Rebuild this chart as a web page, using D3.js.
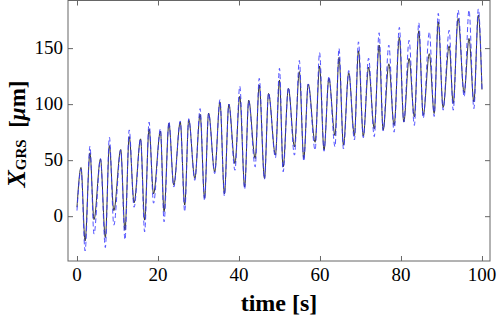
<!DOCTYPE html>
<html>
<head>
<meta charset="utf-8">
<script src="https://cdn.jsdelivr.net/npm/d3@7"></script>
<style>
  body { margin: 0; background: #fff; }
  svg { display: block; }
</style>
</head>
<body>
<svg id="chart" width="498" height="320"></svg>
<script>
'use strict';

// Turning points (time in s, position in µm).
const times = [0, 1.0, 2.0, 3.2, 4.2, 5.8, 7.0, 8.0, 9.1, 10.8, 11.85, 12.9, 14.1, 15.7, 16.7, 17.8,
  18.9, 20.6, 21.5, 22.7, 23.9, 25.5, 26.6, 27.6, 29.1, 30.4, 31.5, 32.5, 34.0, 35.3, 36.4, 37.5,
  39.0, 40.2, 41.4, 42.4, 44.0, 45.0, 46.3, 47.3, 49.0, 50.0, 50.9, 52.2, 53.7, 54.9, 56.0, 57.1,
  58.8, 59.9, 61.0, 62.2, 63.7, 64.7, 65.8, 67.1, 68.5, 69.5, 70.7, 72.0, 73.4, 74.6, 75.6, 77.0,
  78.3, 79.6, 80.7, 82.0, 83.3, 84.4, 85.5, 87.0, 88.2, 89.2, 90.4, 91.9, 92.9, 94.1, 95.6, 96.8,
  98.0, 99.1, 100];

const solidValues = [8, 43.5, -22, 56.5, -3, 51, -19, 63, 5, 59.5, -12.5, 71, 12, 69, -3.5, 78,
  20, 76, 4, 83, 27.7, 84, 10, 86, 33.7, 91, 16, 92, 39.6, 102, 20, 100,
  47, 107, 26, 103.5, 51.5, 117, 33.7, 109.5, 54.5, 121.4, 44, 114, 62, 129, 51.5, 118,
  66, 134, 59, 123, 72, 141.7, 63.4, 128, 72, 147.6, 71.4, 133, 78, 152.7, 76.8, 136,
  81, 159.5, 84, 140.8, 88.7, 165.5, 90, 145, 91.7, 173.5, 97, 152, 100.6, 176.5, 110, 158.6,
  102, 179.5, 113];

const dashedValues = [5, 42, -31, 62.5, -16, 51.5, -28, 70.5, -8, 59, -21, 77, 8, 69, -14, 84,
  11.6, 78, -5, 84.5, 26, 85, 4, 87, 32, 96, 14, 92, 38, 104, 18, 100,
  41, 116, 24, 103, 44, 123, 33, 110, 52, 132, 39.6, 115, 54.5, 139, 49, 118,
  59, 146, 58, 125, 62, 149.7, 60, 130, 68, 155.6, 70, 141, 71, 163.7, 76, 152.7,
  75, 168.5, 84, 157, 81, 172.6, 87.5, 164.6, 89, 181, 94.6, 166, 94.6, 184, 106.5, 184,
  96, 185, 113];

const xMajorTicks = [0, 20, 40, 60, 80, 100];
const yMajorTicks = [0, 50, 100, 150];

const svg = d3.select('#chart');
const frame = { left: 68, right: 490, top: 0.5, bottom: 261 };

const x = d3.scaleLinear().domain([-2.22, 101.98]).range([frame.left, frame.right]);
const y = d3.scaleLinear().domain([-40, 192.5]).range([frame.bottom, frame.top]);

const xMinor = d3.range(0, 101, 5).filter(d => !xMajorTicks.includes(d));
const yMinor = d3.range(-30, 191, 10).filter(d => !yMajorTicks.includes(d));

// Frame with inward ticks on all four sides, Mathematica style.
const axisColor = '#666';
function frameAxis(axisFn, scale, major, minor, translate) {
  const g = svg.append('g').attr('transform', translate);
  g.call(axisFn(scale).tickValues(minor).tickSize(-2.5).tickFormat(''));
  g.call(axisFn(scale).tickValues(major).tickSize(-5).tickFormat(''));
  g.selectAll('.domain').remove();
  g.selectAll('line').attr('stroke', axisColor);
  return g;
}
frameAxis(d3.axisBottom, x, xMajorTicks, xMinor, `translate(0,${frame.bottom})`);
frameAxis(d3.axisTop, x, xMajorTicks, xMinor, `translate(0,${frame.top})`);
frameAxis(d3.axisLeft, y, yMajorTicks, yMinor, `translate(${frame.left},0)`);
frameAxis(d3.axisRight, y, yMajorTicks, yMinor, `translate(${frame.right},0)`);

svg.append('rect')
  .attr('x', frame.left)
  .attr('y', frame.top)
  .attr('width', frame.right - frame.left)
  .attr('height', frame.bottom - frame.top)
  .attr('fill', 'none')
  .attr('stroke', axisColor)
  .attr('stroke-width', 1);

// Tick labels
const serif = "'Liberation Serif', 'Times New Roman', serif";
svg.append('g').selectAll('text')
  .data(xMajorTicks)
  .join('text')
  .attr('x', d => x(d))
  .attr('y', 281)
  .attr('text-anchor', 'middle')
  .attr('font-family', serif)
  .attr('font-size', 19)
  .text(d => d);

svg.append('g').selectAll('text')
  .data(yMajorTicks)
  .join('text')
  .attr('x', 63)
  .attr('y', d => y(d) + 6)
  .attr('text-anchor', 'end')
  .attr('font-family', serif)
  .attr('font-size', 19)
  .text(d => d);

// Axis titles
svg.append('text')
  .attr('x', 279)
  .attr('y', 311)
  .attr('text-anchor', 'middle')
  .attr('font-family', serif)
  .attr('font-weight', 'bold')
  .attr('font-size', 24)
  .text('time [s]');

const yTitle = svg.append('text')
  .attr('transform', 'translate(25,134) rotate(-90)')
  .attr('text-anchor', 'middle')
  .attr('font-family', serif)
  .attr('font-weight', 'bold')
  .attr('font-size', 23);
yTitle.append('tspan').attr('font-style', 'italic').attr('font-size', 26).text('X');
yTitle.append('tspan').attr('font-size', 15).attr('dy', 1).text('GRS');
yTitle.append('tspan').attr('dy', -1).text('\u00a0\u00a0[');
yTitle.append('tspan').attr('font-style', 'italic').text('μ');
yTitle.append('tspan').text('m]');

// Curves
const points = vals => times.map((t, i) => [t, vals[i]]);
const line = d3.line()
  .x(d => x(d[0]))
  .y(d => y(d[1]))
  .curve(d3.curveMonotoneX);

svg.append('path')
  .datum(points(solidValues))
  .attr('d', line)
  .attr('fill', 'none')
  .attr('stroke', '#222')
  .attr('stroke-width', 0.9);

svg.append('path')
  .datum(points(dashedValues))
  .attr('d', line)
  .attr('fill', 'none')
  .attr('stroke', '#3535ff')
  .attr('stroke-opacity', 0.85)
  .attr('stroke-width', 1)
  .attr('stroke-dasharray', '5,3');
</script>
</body>
</html>
